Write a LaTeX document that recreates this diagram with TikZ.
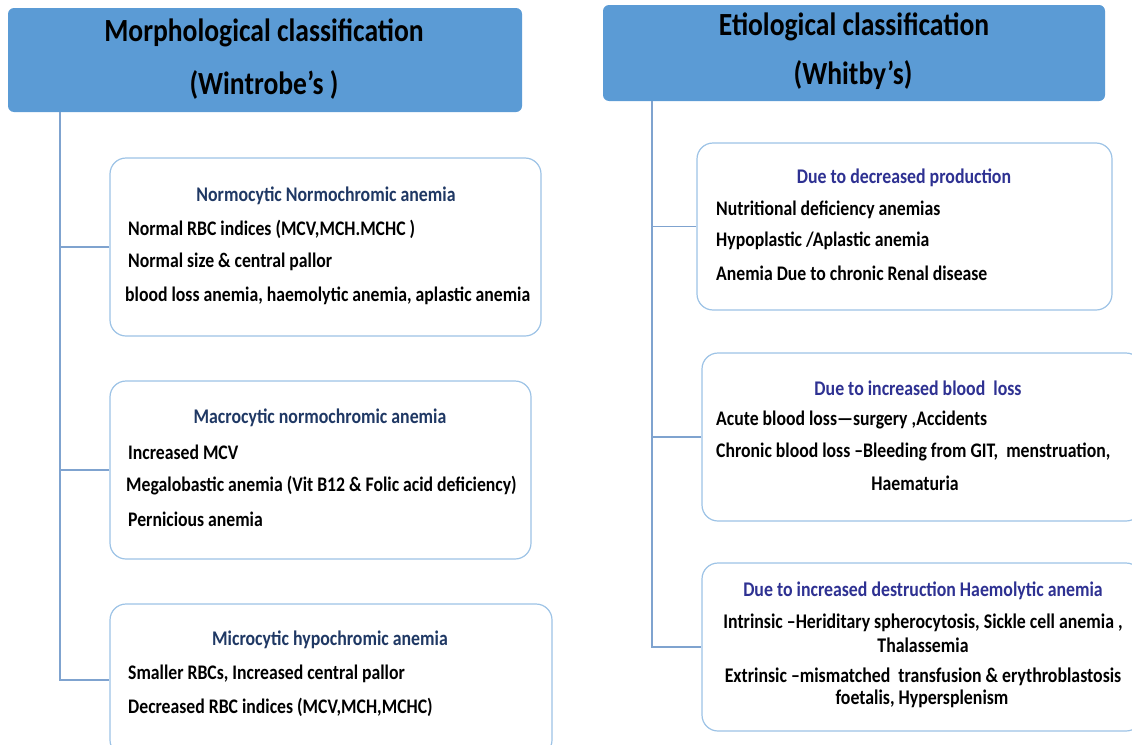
\documentclass[tikz,border=0pt]{standalone}
\usepackage{fontspec}
\usepackage{graphicx}
\setmainfont{Carlito}
\definecolor{hdr}{HTML}{5B9BD5}
\definecolor{bxline}{HTML}{9DC3E6}
\definecolor{conn}{HTML}{7FA3CF}
\definecolor{subL}{HTML}{1F3864}
\definecolor{subR}{HTML}{2E3192}
\newcommand{\ys}[1]{\scalebox{1}[1.17]{#1}}
\tikzset{
  hdrbox/.style={draw=none, fill=hdr, rounded corners=6pt, inner sep=0pt},
  catbox/.style={draw=bxline, line width=1.2pt, fill=white, rounded corners=16pt, inner sep=0pt},
  conline/.style={draw=conn, line width=1.2pt},
  htxt/.style={font=\fontsize{27.6}{30}\selectfont\bfseries, text=black, inner sep=0pt},
  stxt/.style={font=\fontsize{17.8}{20}\selectfont\bfseries, text=subL, inner sep=0pt},
  stxtR/.style={font=\fontsize{17.8}{20}\selectfont\bfseries, text=subR, inner sep=0pt},
  btxt/.style={font=\fontsize{17.7}{20}\selectfont\bfseries, text=black, inner sep=0pt, anchor=west},
  ctxt/.style={font=\fontsize{17.8}{20}\selectfont\bfseries, text=black, inner sep=0pt}
}
\begin{document}
\begin{tikzpicture}[x=1pt,y=-1pt]
\useasboundingbox (0,0) rectangle (1132,744);
\clip (0,0) rectangle (1132,744);
% headers
\node[hdrbox, minimum width=514pt, minimum height=104pt] (lh) at (265,60) {};
\node[hdrbox, minimum width=502pt, minimum height=96pt] (rh) at (854,53) {};
\node[htxt] (lh1) at (264,33) {\ys{Morphological classification}};
\node[htxt] (lh2) at (264,85) {\ys{(Wintrobe’s )}};
\node[htxt] (rh1) at (854,27) {\ys{Etiological classification}};
\node[htxt] (rh2) at (853,75) {\ys{(Whitby’s)}};
% left boxes
\node[catbox, minimum width=431pt, minimum height=178pt] (b1) at (325.5,247) {};
\node[catbox, minimum width=421pt, minimum height=178pt] (b2) at (320.5,470) {};
\node[catbox, minimum width=442pt, minimum height=152pt] (b3) at (331,680) {};
% right boxes
\node[catbox, minimum width=415pt, minimum height=167pt] (c1) at (904.5,226.5) {};
\node[catbox, minimum width=440pt, minimum height=168pt] (c2) at (922,437) {};
\node[catbox, minimum width=440pt, minimum height=168pt] (c3) at (922,647) {};
% connectors
\coordinate (lt) at (60,112);
\coordinate (rt) at (652,101);
\draw[conline] (lt) |- (b3.west);
\draw[conline] (b1.west) -- (b1.west -| lt);
\draw[conline] (b2.west) -- (b2.west -| lt);
\draw[conline] (rt) |- (c3.west);
\draw[conline] (c1.west) -- (c1.west -| rt);
\draw[conline] (c2.west) -- (c2.west -| rt);
% left box texts
\node[stxt] (b1s) at (326,196) {\ys{Normocytic Normochromic anemia}};
\node[btxt] (b1a) at (128,229) {\ys{Normal RBC indices (MCV,MCH.MCHC )}};
\node[btxt] (b1b) at (128,262) {\ys{Normal size \& central pallor}};
\node[btxt] (b1c) at (125,296) {\ys{blood loss anemia, haemolytic anemia, aplastic anemia}};
\node[stxt] (b2s) at (320,418) {\ys{Macrocytic normochromic anemia}};
\node[btxt] (b2a) at (128,452) {\ys{Increased MCV}};
\node[btxt] (b2b) at (126,486) {\ys{Megalobastic anemia (Vit B12 \& Folic acid deficiency)}};
\node[btxt] (b2c) at (128,519) {\ys{Pernicious anemia}};
\node[stxt] (b3s) at (330,640) {\ys{Microcytic hypochromic anemia}};
\node[btxt] (b3a) at (128,674) {\ys{Smaller RBCs, Increased central pallor}};
\node[btxt] (b3b) at (128,707) {\ys{Decreased RBC indices (MCV,MCH,MCHC)}};
% right box texts
\node[stxtR] (c1s) at (904,178) {\ys{Due to decreased production}};
\node[btxt] (c1a) at (716,210) {\ys{Nutritional deficiency anemias}};
\node[btxt] (c1b) at (716,241) {\ys{Hypoplastic /Aplastic anemia}};
\node[btxt] (c1c) at (716,273) {\ys{Anemia Due to chronic Renal disease}};
\node[stxtR] (c2s) at (918,388) {\ys{Due to increased blood\ \ loss}};
\node[btxt] (c2a) at (716,420) {\ys{Acute blood loss—surgery ,Accidents}};
\node[btxt] (c2b) at (716,452) {\ys{Chronic blood loss –Bleeding from GIT,\ \ menstruation,}};
\node[ctxt] (c2c) at (915,483) {\ys{Haematuria}};
\node[stxtR] (c3s) at (923,591) {\ys{Due to increased destruction Haemolytic anemia}};
\node[ctxt] (c3a) at (923,623) {\ys{Intrinsic –Heriditary spherocytosis, Sickle cell anemia ,}};
\node[ctxt] (c3b) at (923,645) {\ys{Thalassemia}};
\node[ctxt] (c3c) at (923,677) {\ys{Extrinsic –mismatched\ \ transfusion \& erythroblastosis}};
\node[ctxt] (c3d) at (922,699) {\ys{foetalis, Hypersplenism}};
\end{tikzpicture}
\end{document}
